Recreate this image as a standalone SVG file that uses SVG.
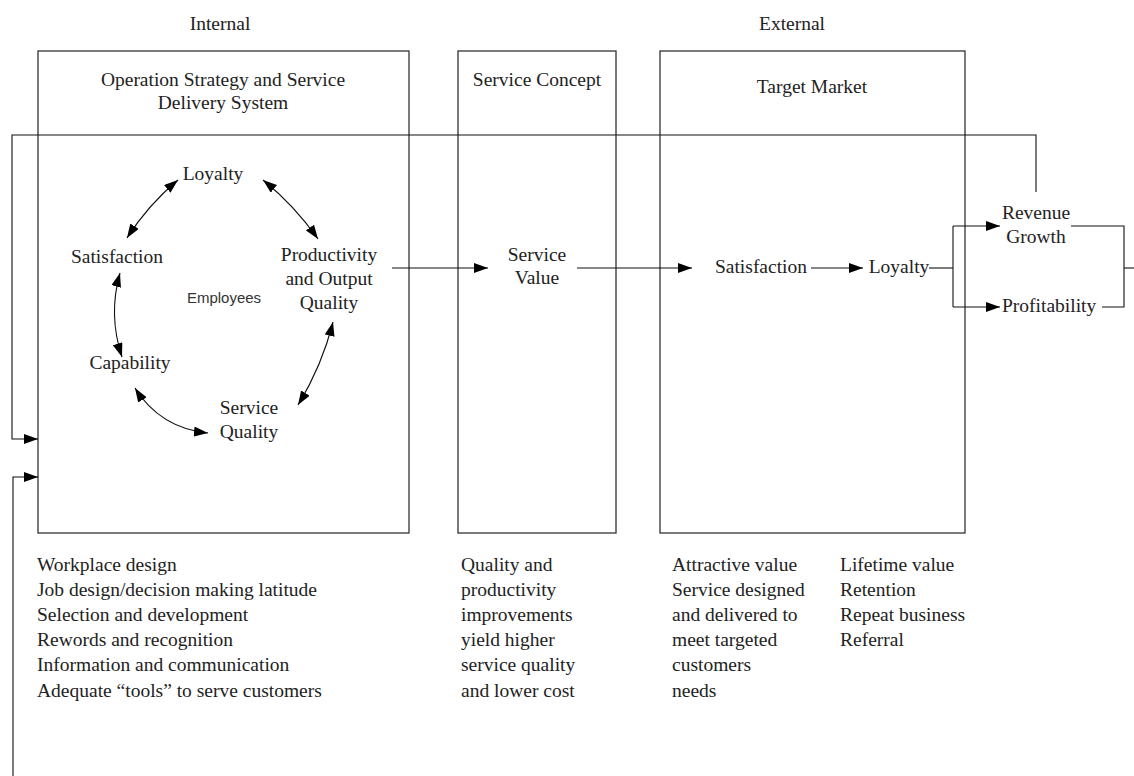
<svg xmlns="http://www.w3.org/2000/svg" width="1134" height="776" viewBox="0 0 1134 776">
  <style>
    .t { font-family: "Liberation Serif", "Times New Roman", serif; font-size: 19.5px; fill: #222; }
    .m { text-anchor: middle; }
    .sans { font-family: "Liberation Sans", Arial, sans-serif; font-size: 15px; fill: #333; }
    .box { fill: none; stroke: #333; stroke-width: 1.3; }
    .ln { fill: none; stroke: #111; stroke-width: 1.1; }
    .arr { marker-end: url(#ah); }
    .dbl { marker-start: url(#ah); marker-end: url(#ah); }
  </style>
  <defs>
    <marker id="ah" viewBox="0 0 14 10" refX="14" refY="5" markerWidth="14" markerHeight="10" markerUnits="userSpaceOnUse" orient="auto-start-reverse">
      <path d="M0,0 L14,5 L0,10 z" fill="#000"/>
    </marker>
  </defs>
  <rect width="1134" height="776" fill="#fff"/>

  <!-- column headings -->
  <g id="headings">
    <text class="t m" x="220" y="30">Internal</text>
    <text class="t m" x="792" y="30">External</text>
  </g>

  <!-- operation strategy box with the employee cycle -->
  <g id="operation-strategy">
    <rect class="box" x="38" y="51" width="371" height="482"/>
    <text class="t m" x="223" y="86">Operation Strategy and Service</text>
    <text class="t m" x="223" y="109">Delivery System</text>
  </g>
  <g id="emp-loyalty"><text class="t m" x="213" y="180">Loyalty</text></g>
  <g id="emp-satisfaction"><text class="t m" x="117" y="263">Satisfaction</text></g>
  <g id="emp-productivity">
    <text class="t m" x="329" y="261">Productivity</text>
    <text class="t m" x="329" y="285">and Output</text>
    <text class="t m" x="329" y="309">Quality</text>
  </g>
  <g id="employees"><text class="sans m" x="224" y="303">Employees</text></g>
  <g id="emp-capability"><text class="t m" x="130" y="369">Capability</text></g>
  <g id="emp-service-quality">
    <text class="t m" x="249" y="414">Service</text>
    <text class="t m" x="249" y="438">Quality</text>
  </g>

  <!-- service concept box -->
  <g id="service-concept">
    <rect class="box" x="458" y="51" width="158" height="482"/>
    <text class="t m" x="537" y="86">Service Concept</text>
  </g>
  <g id="service-value">
    <text class="t m" x="537" y="261">Service</text>
    <text class="t m" x="537" y="284">Value</text>
  </g>

  <!-- target market box -->
  <g id="target-market">
    <rect class="box" x="660" y="51" width="305" height="482"/>
    <text class="t m" x="812" y="93">Target Market</text>
  </g>
  <g id="cust-satisfaction"><text class="t m" x="761" y="273">Satisfaction</text></g>
  <g id="cust-loyalty"><text class="t m" x="899" y="273">Loyalty</text></g>

  <!-- financial results -->
  <g id="revenue-growth">
    <text class="t m" x="1036" y="219">Revenue</text>
    <text class="t m" x="1036" y="243">Growth</text>
  </g>
  <g id="profitability"><text class="t" x="1002" y="312">Profitability</text></g>

  <!-- notes under each box -->
  <g id="notes-internal" class="t">
    <text x="37" y="571">Workplace design</text>
    <text x="37" y="596">Job design/decision making latitude</text>
    <text x="37" y="621">Selection and development</text>
    <text x="37" y="646">Rewords and recognition</text>
    <text x="37" y="671">Information and communication</text>
    <text x="37" y="697">Adequate “tools” to serve customers</text>
  </g>
  <g id="notes-concept" class="t">
    <text x="461" y="571">Quality and</text>
    <text x="461" y="596">productivity</text>
    <text x="461" y="621">improvements</text>
    <text x="461" y="646">yield higher</text>
    <text x="461" y="671">service quality</text>
    <text x="461" y="697">and lower cost</text>
  </g>
  <g id="notes-market" class="t">
    <text x="672" y="571">Attractive value</text>
    <text x="672" y="596">Service designed</text>
    <text x="672" y="621">and delivered to</text>
    <text x="672" y="646">meet targeted</text>
    <text x="672" y="671">customers</text>
    <text x="672" y="697">needs</text>
  </g>
  <g id="notes-results" class="t">
    <text x="840" y="571">Lifetime value</text>
    <text x="840" y="596">Retention</text>
    <text x="840" y="621">Repeat business</text>
    <text x="840" y="646">Referral</text>
  </g>

  <!-- connectors -->
  <g id="connectors">
    <!-- employee cycle -->
    <path class="ln dbl" d="M178,180 Q148,205 127,238"/>
    <path class="ln dbl" d="M263,180 Q294,205 318,239"/>
    <path class="ln dbl" d="M120,273 Q108,315 122,357"/>
    <path class="ln dbl" d="M135,388 Q160,428 208,433"/>
    <path class="ln dbl" d="M333,322 Q322,366 298,405"/>
    <!-- main chain -->
    <path class="ln arr" d="M392,268 H488"/>
    <path class="ln arr" d="M577,268 H692"/>
    <path class="ln arr" d="M811,268 H863"/>
    <path class="ln" d="M929,268 H953"/>
    <path class="ln" d="M953,226 V307"/>
    <path class="ln arr" d="M953,226 H1000"/>
    <path class="ln arr" d="M953,307 H1000"/>
    <path class="ln" d="M1071,226 H1124 V307 H1102"/>
    <path class="ln" d="M1124,268 H1134"/>
    <!-- feedback loops -->
    <path class="ln arr" d="M1036,192 V135 H12 V439 H38"/>
    <path class="ln arr" d="M13,776 V477 H38"/>
  </g>
</svg>
